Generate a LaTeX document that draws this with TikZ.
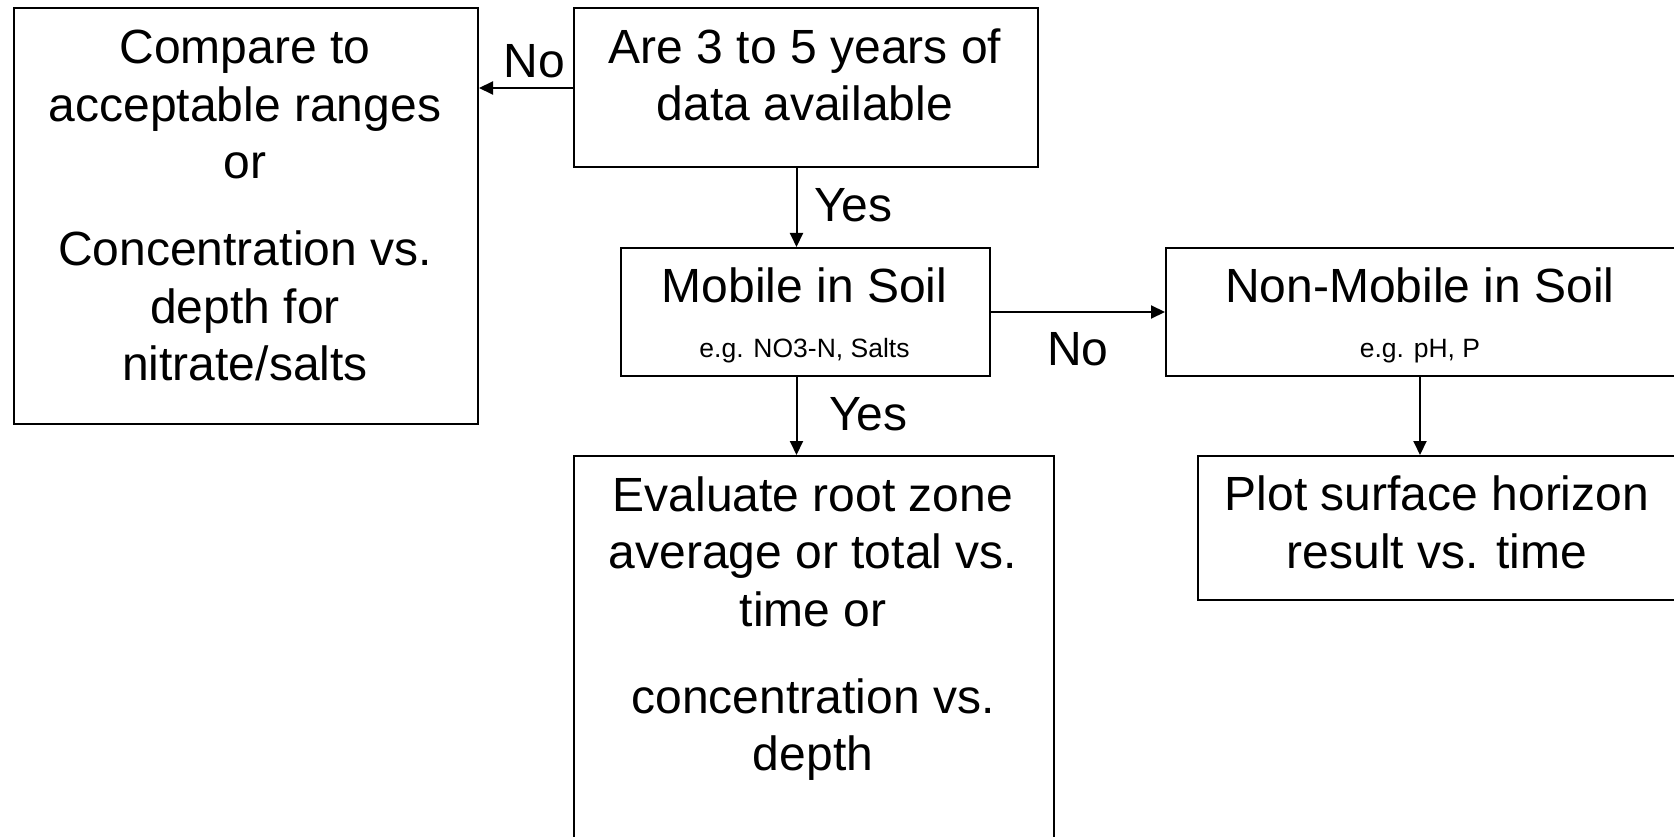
\documentclass[tikz,border=0pt]{standalone}
\usepackage{fontspec}
\setmainfont{Liberation Sans}
\usetikzlibrary{arrows.meta}
\begin{document}
\begin{tikzpicture}[x=1pt,y=-1pt,
  box/.style={draw, line width=2pt, rectangle, inner sep=0pt, anchor=north west},
  big/.style={font=\fontsize{48}{57.5}\selectfont, align=center, anchor=base, inner sep=0pt},
  small/.style={font=\fontsize{26.5}{30}\selectfont, anchor=base, inner sep=0pt},
  lbl/.style={font=\fontsize{48}{57.5}\selectfont, anchor=base west, inner sep=0pt},
  arr/.style={line width=2pt, -{Triangle[width=13pt,length=14pt]}}]
\useasboundingbox (0,0) rectangle (1674,837);
\fill[white] (0,0) rectangle (1674,837);
% boxes
\node[box, minimum width=464pt, minimum height=415.5pt] (cmp) at (13,7.5) {};
\node[box, minimum width=464pt, minimum height=159pt] (are) at (573,7.5) {};
\node[box, minimum width=369pt, minimum height=128pt] (mob) at (620,247) {};
\node[box, minimum width=510pt, minimum height=128pt] (non) at (1165,247) {};
\node[box, minimum width=480pt, minimum height=400pt] (eva) at (573,455) {};
\node[box, minimum width=480pt, minimum height=144pt] (plot) at (1197,455) {};
% texts (anchor base = baseline of the last line)
\node[big] (tcmp) at (245,380.5) {Compare to\\acceptable ranges\\or\\[29.5pt]Concentration vs.\\depth for\\nitrate/salts};
\node[big] (tare) at (805,121) {Are 3 to 5 years of\\data available};
\node[big] (tmob) at (804.5,302.5) {Mobile in Soil};
\node[small] (smob) at (804.5,357) {e.g. NO3-N, Salts};
\node[big] (tnon) at (1420,302.5) {Non-Mobile in Soil};
\node[small] (snon) at (1420,357) {e.g. pH, P};
\node[big] (teva) at (813,770.5) {Evaluate root zone\\average or total vs.\\time or\\[29.5pt]concentration vs.\\depth};
\node[big] (tplot) at (1437,568) {Plot surface horizon\\result vs. time};
% labels
\node[lbl] (no1) at (503.5,78) {No};
\node[lbl] (yes1) at (814,222) {Yes};
\node[lbl] (no2) at (1047,365) {No};
\node[lbl] (yes2) at (829,430) {Yes};
% connectors
\coordinate (cx) at (796.5,0);
\draw[arr] (are.west) -- (cmp.east |- are.west);
\draw[arr] (are.south -| cx) -- (mob.north -| cx);
\draw[arr] (mob.east) -- (non.west |- mob.east);
\draw[arr] (mob.south -| cx) -- (eva.north -| cx);
\draw[arr] (non.south -| tnon.base) -- (plot.north -| tnon.base);
\end{tikzpicture}
\end{document}
